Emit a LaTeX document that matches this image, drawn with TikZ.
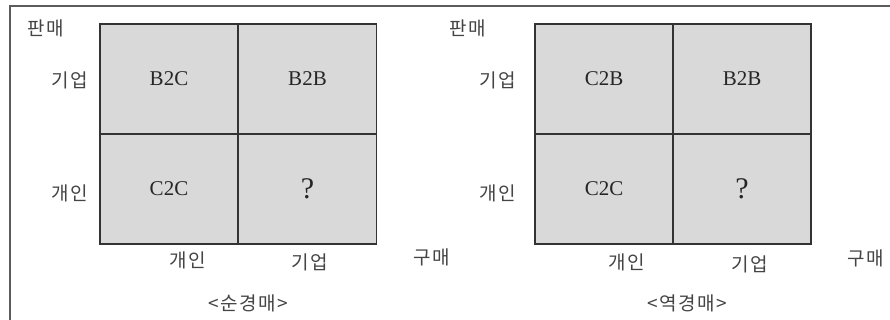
\documentclass[tikz,border=0pt]{standalone}
\usepackage{fontspec}
\setmainfont{Liberation Serif}
\newfontfamily\kr[LetterSpace=8]{Noto Sans CJK KR}
\definecolor{cellgray}{HTML}{D9D9D9}
\definecolor{ink}{HTML}{333333}
\definecolor{txt}{HTML}{444444}
\tikzset{
  cell/.style={draw=ink, line width=1.6pt, fill=cellgray, minimum width=138pt, minimum height=110pt, inner sep=0pt, outer sep=0pt, font=\fontsize{21}{21}\selectfont, text=black!85},
  qmark/.style={font=\fontsize{30}{30}\selectfont},
  krlab/.style={font=\kr\fontsize{19}{19}\selectfont, text=txt, inner sep=0pt},
}
\begin{document}
\begin{tikzpicture}[x=1pt,y=-1pt]
\useasboundingbox (0,0) rectangle (890,320);
\fill[white] (0,0) rectangle (890,320);
\draw[ink!80, line width=2pt] (10,320) -- (10,6) -- (890,6);
% left grid
\node[cell] (l11) at (169,79) {B2C};
\node[cell] (l12) at (307.5,79) {B2B};
\node[cell] (l21) at (169,189) {C2C};
\node[cell, qmark] (l22) at (307.5,189) {?};
\node[krlab] (lsell) at (46,28) {판매};
\node[krlab] (lr1) at (70,80) {기업};
\node[krlab] (lr2) at (70,193) {개인};
\node[krlab] (lc1) at (188,260) {개인};
\node[krlab] (lc2) at (310,262) {기업};
\node[krlab] (lbuy) at (432,257) {구매};
\node[krlab] (ltitle) at (248,303) {<순경매>};
% right grid
\node[cell] (r11) at (604,79) {C2B};
\node[cell] (r12) at (742,79) {B2B};
\node[cell] (r21) at (604,189) {C2C};
\node[cell, qmark] (r22) at (742,189) {?};
\node[krlab] (rsell) at (468,28) {판매};
\node[krlab] (rr1) at (498,80) {기업};
\node[krlab] (rr2) at (498,193) {개인};
\node[krlab] (rc1) at (627,262) {개인};
\node[krlab] (rc2) at (750,264) {기업};
\node[krlab] (rbuy) at (866,258) {구매};
\node[krlab] (rtitle) at (687,303) {<역경매>};
\end{tikzpicture}
\end{document}
